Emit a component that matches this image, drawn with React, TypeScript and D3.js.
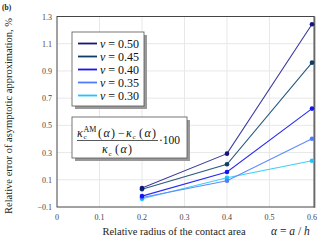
import React, {useEffect, useRef} from 'react'
import * as d3 from 'd3'

// relative radius alpha = a/h
const alphas = [0.2, 0.4, 0.6]
const nuLabels = ['0.50', '0.45', '0.40', '0.35', '0.30']
const err050 = [0.04, 0.292, 1.243]
const err045 = [0.03, 0.214, 0.961]
const err040 = [-0.02, 0.157, 0.623]
const err035 = [-0.03, 0.093, 0.402]
const err030 = [-0.04, 0.115, 0.24]
const xTicks = [0, 0.1, 0.2, 0.3, 0.4, 0.5, 0.6]
const yTicks = [-0.1, 0.1, 0.3, 0.5, 0.7, 0.9, 1.1, 1.3]

const seriesColors = ['#14147a', '#0d3d66', '#1616f0', '#4f7cff', '#22c6f5']
const lineColors = ['#3a3aa0', '#2a5a80', '#2a2af5', '#5f8aff', '#3ccff8']
const serif = '"Liberation Serif", "DejaVu Serif", serif'

const App = () => {
  const ref = useRef<SVGSVGElement>(null)

  useEffect(() => {
    const svg = d3.select(ref.current)
    svg.selectAll('*').remove()

    const x = d3.scaleLinear().domain([0, 0.6]).range([57, 312])
    const y = d3.scaleLinear().domain([-0.1, 1.3]).range([207, 16.5])
    const x0 = x(0), x1 = x(0.605), y0 = y(-0.1), y1 = y(1.3)

    // grid
    svg.append('g').selectAll('line').data(xTicks.slice(1, -1)).enter().append('line')
      .attr('x1', d => x(d)).attr('x2', d => x(d)).attr('y1', y1).attr('y2', y0)
      .attr('stroke', '#e8e8e8').attr('stroke-width', 1)
    svg.append('g').selectAll('line').data(yTicks.slice(1, -1)).enter().append('line')
      .attr('x1', x0).attr('x2', x1).attr('y1', d => y(d)).attr('y2', d => y(d))
      .attr('stroke', '#e8e8e8').attr('stroke-width', 1)

    // frame
    svg.append('line').attr('x1', x1 + 0.5).attr('x2', x1 + 0.5).attr('y1', y1).attr('y2', y0 + 1)
      .attr('stroke', '#aaa').attr('stroke-width', 2)
    svg.append('rect').attr('x', x0).attr('y', y1).attr('width', x1 - x0).attr('height', y0 - y1)
      .attr('fill', 'none').attr('stroke', '#444').attr('stroke-width', 1)

    // tick labels
    const fmt = (d: number) => d.toFixed(1).replace('-', '\u2212')
    svg.append('g').selectAll('text').data(xTicks).enter().append('text')
      .attr('x', d => x(d)).attr('y', 220).attr('text-anchor', 'middle')
      .attr('font-family', serif).attr('font-size', 8).attr('fill', '#444')
      .text(d => d === 0 ? '0' : fmt(d))
    svg.append('g').selectAll('text').data(yTicks).enter().append('text')
      .attr('x', 52).attr('y', d => y(d) + 3).attr('text-anchor', 'end')
      .attr('font-family', serif).attr('font-size', 8).attr('fill', '#444')
      .text(fmt)

    // series
    const all = [err050, err045, err040, err035, err030]
    const line = d3.line<number>().x((_, i) => x(alphas[i])).y(d => y(d))
    for (let s = all.length - 1; s >= 0; s--) {
      svg.append('path').attr('d', line(all[s]) as string).attr('fill', 'none')
        .attr('stroke', lineColors[s]).attr('stroke-width', 1.1)
    }
    for (let s = all.length - 1; s >= 0; s--) {
      svg.append('g').selectAll('circle').data(all[s]).enter().append('circle')
        .attr('cx', (_, i) => x(alphas[i])).attr('cy', d => y(d)).attr('r', 2.3)
        .attr('fill', seriesColors[s])
    }

    // legend
    const lg = svg.append('g')
    lg.append('rect').attr('x', 75).attr('y', 35).attr('width', 72).attr('height', 74).attr('fill', '#999')
    lg.append('rect').attr('x', 72).attr('y', 32).attr('width', 72).attr('height', 74)
      .attr('fill', 'white').attr('stroke', '#555').attr('stroke-width', 0.8)
    nuLabels.forEach((lab, i) => {
      const ly = 43.5 + i * 13
      lg.append('line').attr('x1', 78).attr('x2', 97).attr('y1', ly).attr('y2', ly)
        .attr('stroke', seriesColors[i]).attr('stroke-width', 1.8)
      const t = lg.append('text').attr('x', 100).attr('y', ly + 4)
        .attr('font-family', serif).attr('font-size', 12).attr('fill', '#111')
      t.append('tspan').attr('font-style', 'italic').text('\u03bd')
      t.append('tspan').text(' = ' + lab)
    })

    // formula box
    const fb = svg.append('g').attr('font-family', serif).attr('fill', '#111')
    fb.append('rect').attr('x', 75).attr('y', 120).attr('width', 115).attr('height', 41).attr('fill', '#999')
    fb.append('rect').attr('x', 72).attr('y', 117).attr('width', 115).attr('height', 41)
      .attr('fill', 'white').attr('stroke', '#555').attr('stroke-width', 0.8)
    const fs = 12
    const kappa = (g: any, kx: number, by: number, sup: string | null) => {
      g.append('text').attr('x', kx).attr('y', by).attr('font-size', fs).attr('font-style', 'italic').text('\u03ba')
      g.append('text').attr('x', kx + 6.5).attr('y', by + 2.5).attr('font-size', 7).text('c')
      if (sup) g.append('text').attr('x', kx + 6.5).attr('y', by - 5).attr('font-size', 8).text(sup)
    }
    const paren = (g: any, px: number, by: number) => {
      const t = g.append('text').attr('x', px).attr('y', by).attr('font-size', fs)
      t.append('tspan').text('(')
      t.append('tspan').attr('dx', 1.5).attr('font-style', 'italic').text('\u03b1')
      t.append('tspan').attr('dx', 1.2).text(')')
    }
    kappa(fb, 77, 136.5, 'AM')
    paren(fb, 98, 136.5)
    fb.append('text').attr('x', 118).attr('y', 136.5).attr('font-size', fs).text('\u2212')
    kappa(fb, 126, 136.5, null)
    paren(fb, 139, 136.5)
    fb.append('line').attr('x1', 77).attr('x2', 158).attr('y1', 140.5).attr('y2', 140.5)
      .attr('stroke', '#111').attr('stroke-width', 0.7)
    kappa(fb, 102, 153, null)
    paren(fb, 115, 153)
    fb.append('text').attr('x', 159).attr('y', 144).attr('font-size', 11.5).text('\u00b7100')

    // axis titles
    svg.append('text').attr('transform', 'translate(12,116) rotate(-90)').attr('text-anchor', 'middle')
      .attr('font-family', serif).attr('font-size', 10.5).attr('fill', '#222')
      .text('Relative error of asymptotic approximation, %')
    svg.append('text').attr('x', 174).attr('y', 235).attr('text-anchor', 'middle')
      .attr('font-family', serif).attr('font-size', 10.5).attr('fill', '#222')
      .text('Relative radius of the contact area')
    const at = svg.append('text').attr('x', 271).attr('y', 235)
      .attr('font-family', serif).attr('font-size', 11.5).attr('fill', '#222')
    at.append('tspan').attr('font-style', 'italic').text('\u03b1')
    at.append('tspan').text(' = ')
    at.append('tspan').attr('font-style', 'italic').text('a')
    at.append('tspan').text(' / ')
    at.append('tspan').attr('font-style', 'italic').text('h')

    svg.append('text').attr('x', 2).attr('y', 10).attr('font-family', serif)
      .attr('font-size', 7.5).attr('font-weight', 'bold').attr('fill', '#222').text('(b)')
  }, [])

  return (
    <svg ref={ref} width={320} height={240}
      style={{position: 'absolute', left: 0, top: 0, background: 'white'}} />
  )
}

export default App
